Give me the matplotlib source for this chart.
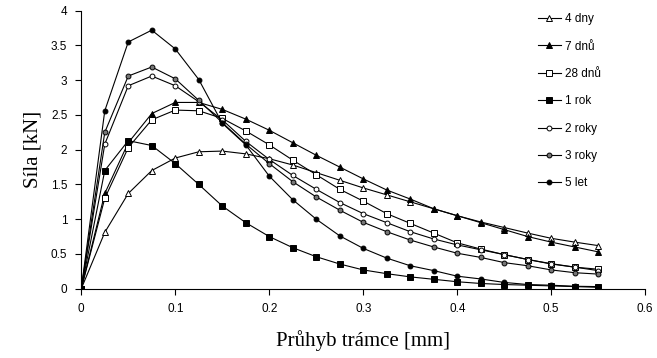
import matplotlib
matplotlib.use("Agg")
import matplotlib.pyplot as plt

# deflection steps [mm]
x = [0, 0.025, 0.05, 0.075, 0.1, 0.125, 0.15, 0.175, 0.2, 0.225, 0.25, 0.275,
     0.3, 0.325, 0.35, 0.375, 0.4, 0.425, 0.45, 0.475, 0.5, 0.525, 0.55]

# force [kN] per age
dny4 = [0, 0.81, 1.37, 1.70, 1.88, 1.97, 1.98, 1.94, 1.87, 1.78, 1.67, 1.56,
        1.45, 1.35, 1.25, 1.15, 1.05, 0.96, 0.88, 0.80, 0.725, 0.67, 0.62]
dnu7 = [0, 1.37, 2.10, 2.52, 2.68, 2.68, 2.58, 2.44, 2.28, 2.10, 1.92, 1.75,
        1.58, 1.42, 1.29, 1.15, 1.05, 0.95, 0.85, 0.75, 0.67, 0.60, 0.53]
dnu28 = [0, 1.30, 2.03, 2.43, 2.57, 2.56, 2.45, 2.27, 2.07, 1.85, 1.64, 1.43,
         1.26, 1.08, 0.94, 0.80, 0.66, 0.57, 0.49, 0.42, 0.36, 0.31, 0.28]
rok1 = [0, 1.70, 2.13, 2.06, 1.80, 1.50, 1.19, 0.95, 0.75, 0.59, 0.46, 0.355,
        0.27, 0.216, 0.17, 0.135, 0.10, 0.075, 0.06, 0.05, 0.04, 0.03, 0.02]
roky2 = [0, 2.08, 2.92, 3.06, 2.92, 2.69, 2.43, 2.12, 1.86, 1.63, 1.43, 1.24,
         1.08, 0.95, 0.82, 0.715, 0.63, 0.56, 0.49, 0.42, 0.355, 0.31, 0.26]
roky3 = [0, 2.25, 3.06, 3.19, 3.02, 2.71, 2.39, 2.08, 1.80, 1.54, 1.32, 1.13,
         0.955, 0.82, 0.70, 0.60, 0.51, 0.45, 0.375, 0.33, 0.27, 0.23, 0.21]
let5 = [0, 2.56, 3.55, 3.72, 3.45, 3.01, 2.38, 2.07, 1.62, 1.28, 1.00, 0.76,
        0.58, 0.44, 0.33, 0.26, 0.18, 0.14, 0.09, 0.06, 0.05, 0.035, 0.03]

labels = ["4 dny", "7 dnů", "28 dnů", "1 rok", "2 roky", "3 roky", "5 let"]
series = [dny4, dnu7, dnu28, rok1, roky2, roky3, let5]
# (marker, facecolor, size)
styles = [("^", "white", 5), ("^", "black", 5), ("s", "white", 4),
          ("s", "black", 4), ("o", "white", 3.5), ("o", "#777777", 3.5),
          ("o", "black", 3.5)]

fig = plt.figure(figsize=(6.57, 3.58), dpi=100)
ax = fig.add_axes([0.1237, 0.1936, 0.8584, 0.7765])

for y, lab, (m, fc, ms) in zip(series, labels, styles):
    ax.plot(x, y, color="black", lw=0.8, marker=m, markersize=ms,
            markerfacecolor=fc, markeredgecolor="black", markeredgewidth=0.7,
            label=lab)

ax.set_xlim(0, 0.6)
ax.set_ylim(0, 4)
ax.set_xticks([0, 0.1, 0.2, 0.3, 0.4, 0.5, 0.6])
ax.set_xticklabels(["0", "0.1", "0.2", "0.3", "0.4", "0.5", "0.6"])
ax.set_yticks([0, 0.5, 1, 1.5, 2, 2.5, 3, 3.5, 4])
ax.set_yticklabels(["0", "0.5", "1", "1.5", "2", "2.5", "3", "3.5", "4"])
for s in ("top", "right"):
    ax.spines[s].set_visible(False)
for s in ("left", "bottom"):
    ax.spines[s].set_linewidth(0.8)
ax.tick_params(direction="out", length=4, width=0.8, labelsize=8.5,
               pad=6)
for t in ax.get_xticklabels() + ax.get_yticklabels():
    t.set_family("Liberation Sans")

ax.set_xlabel("Průhyb trámce [mm]", family="Liberation Serif", fontsize=15,
              labelpad=11)
ax.set_ylabel("Síla [kN]", family="Liberation Serif", fontsize=15,
              labelpad=6)

leg = ax.legend(loc="upper left", bbox_to_anchor=(530 / 657, 1 - 5 / 358),
                bbox_transform=fig.transFigure, frameon=False,
                prop={"family": "Liberation Sans", "size": 8.5},
                handlelength=1.9, handletextpad=0.4, labelspacing=1.3,
                borderpad=0.2)

fig.savefig("out.png", dpi=100)
